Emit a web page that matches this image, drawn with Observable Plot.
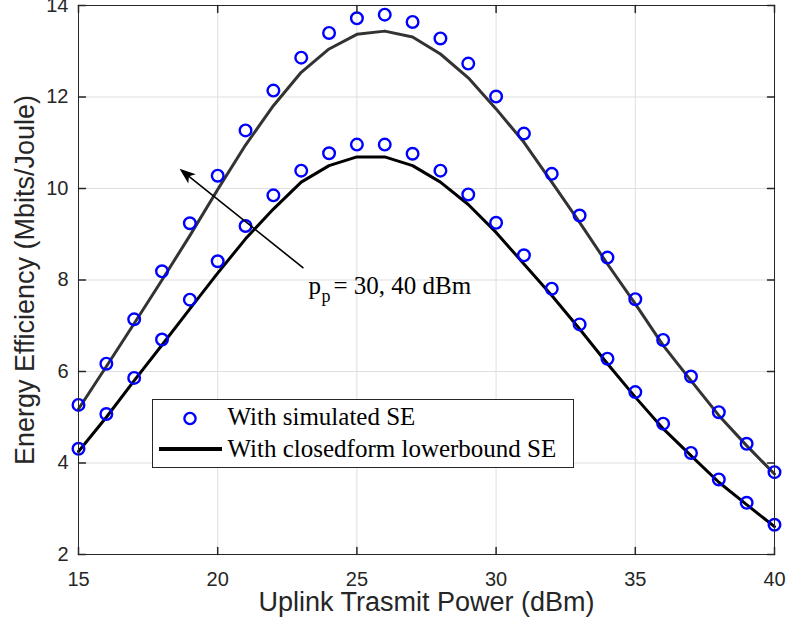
<!DOCTYPE html>
<html>
<head>
<meta charset="utf-8">
<script src="https://cdn.jsdelivr.net/npm/d3@7"></script>
<script src="https://cdn.jsdelivr.net/npm/@observablehq/plot@0.6"></script>
<style>
  body { margin: 0; background: #fff; }
  #wrap { position: relative; width: 787px; height: 633px; }
  #legend { position: absolute; left: 152px; top: 399px; }
</style>
</head>
<body>
<div id="wrap"></div>
<script>
// ---- data ----
const power = [15,16,17,18,19,20,21,22,23,24,25,26,27,28,29,30,31,32,33,34,35,36,37,38,39,40];
// pp = 40 dBm (upper)
const simulated40 = [5.27,6.17,7.14,8.19,9.24,10.28,11.27,12.14,12.86,13.40,13.72,13.80,13.64,13.28,12.73,12.01,11.20,10.32,9.41,8.49,7.58,6.69,5.89,5.11,4.42,3.80];
const closed40    = [5.18,6.11,7.05,8.00,8.97,9.98,10.95,11.81,12.54,13.05,13.37,13.44,13.31,12.94,12.42,11.74,11.01,10.14,9.26,8.35,7.48,6.57,5.80,5.04,4.38,3.76];
// pp = 30 dBm (lower)
const simulated30 = [4.31,5.07,5.86,6.70,7.57,8.41,9.18,9.85,10.39,10.77,10.96,10.96,10.76,10.39,9.87,9.25,8.54,7.81,7.03,6.28,5.55,4.86,4.22,3.64,3.13,2.65];
const closed30    = [4.25,5.00,5.80,6.58,7.37,8.15,8.90,9.55,10.14,10.50,10.69,10.69,10.50,10.14,9.65,9.04,8.35,7.66,6.93,6.17,5.44,4.75,4.16,3.58,3.09,2.61];

const xDomain = [15, 40];
const yDomain = [2, 14];
const xTicks = [15, 20, 25, 30, 35, 40];
const yTicks = [2, 4, 6, 8, 10, 12, 14];
const xLabel = "Uplink Trasmit Power (dBm)";
const yLabel = "Energy Efficiency (Mbits/Joule)";
const legendLabels = ["With simulated SE", "With closedform lowerbound SE"];
const arrowFrom = [23.06, 8.27];
const arrowTo = [18.63, 10.43];
const annotationAt = [23.26, 7.70];
const annotationParts = ["p", "p", "= 30, 40 dBm"];

// ---- layout ----
const W = 787, H = 633, mL = 78, mR = 13, mT = 5, mB = 79;
const kx = (W - mL - mR) / (xDomain[1] - xDomain[0]);
const ky = (H - mT - mB) / (yDomain[1] - yDomain[0]);
const arrowAngle = Math.atan2((arrowTo[0] - arrowFrom[0]) * kx, (arrowTo[1] - arrowFrom[1]) * ky) * 180 / Math.PI;

// ---- build ----
const rows = (ys) => power.map((x, i) => ({x, y: ys[i]}));
const sims = [...rows(simulated40), ...rows(simulated30)];
const tickShape = { draw(ctx, l) { ctx.moveTo(0, 0); ctx.lineTo(0, -l); } };
const headShape = { draw(ctx, l, r) { ctx.moveTo(0, -l); ctx.lineTo(-r, 0); ctx.lineTo(0, -l * 0.25); ctx.lineTo(r, 0); ctx.closePath(); } };
const frameColor = "#262626";
const sans = "'Liberation Sans', Arial, Helvetica, sans-serif";
const serif = "'Liberation Serif', 'Times New Roman', serif";
const at = { x: () => annotationAt[0], y: () => annotationAt[1] };

const chart = Plot.plot({
  width: W,
  height: H,
  marginLeft: mL,
  marginRight: mR,
  marginTop: mT,
  marginBottom: mB,
  style: { fontFamily: sans, background: "#fff", color: frameColor, overflow: "visible" },
  x: { domain: xDomain, ticks: xTicks },
  y: { domain: yDomain, ticks: yTicks },
  marks: [
    Plot.gridX(xTicks, { stroke: "#dfdfdf", strokeOpacity: 1, strokeWidth: 1 }),
    Plot.gridY(yTicks, { stroke: "#dfdfdf", strokeOpacity: 1, strokeWidth: 1 }),
    Plot.line(rows(closed40), { x: "x", y: "y", stroke: "#333333", strokeWidth: 3 }),
    Plot.line(rows(closed30), { x: "x", y: "y", stroke: "#000000", strokeWidth: 3 }),
    Plot.dot(sims, { x: "x", y: "y", r: 5.8, stroke: "#0000ff", strokeWidth: 2.4, fill: "none" }),
    Plot.arrow([{ x1: arrowFrom[0], y1: arrowFrom[1], x2: arrowTo[0], y2: arrowTo[1] }],
      { x1: "x1", y1: "y1", x2: "x2", y2: "y2", stroke: "#000", strokeWidth: 1.6, headLength: 0, insetEnd: 4 }),
    Plot.vector([arrowTo], { x: d => d[0], y: d => d[1], length: 16, r: 6, rotate: arrowAngle, anchor: "end", shape: headShape, fill: "#000", stroke: "none" }),
    Plot.text([annotationParts[0]], { ...at, textAnchor: "start", lineAnchor: "bottom", fontFamily: serif, fontSize: 25, fill: "#000" }),
    Plot.text([annotationParts[1]], { ...at, dx: 13, dy: 8, textAnchor: "start", lineAnchor: "bottom", fontFamily: serif, fontSize: 18, fill: "#000" }),
    Plot.text([annotationParts[2]], { ...at, dx: 25, textAnchor: "start", lineAnchor: "bottom", fontFamily: serif, fontSize: 25, fill: "#000" }),
    Plot.frame({ stroke: frameColor, strokeWidth: 1 }),
    // inward ticks on all four sides
    Plot.vector(xTicks, { x: d => d, y: () => yDomain[0], length: 7, rotate: 0, anchor: "start", shape: tickShape, stroke: frameColor }),
    Plot.vector(xTicks, { x: d => d, y: () => yDomain[1], length: 7, rotate: 180, anchor: "start", shape: tickShape, stroke: frameColor }),
    Plot.vector(yTicks, { y: d => d, x: () => xDomain[0], length: 7, rotate: 90, anchor: "start", shape: tickShape, stroke: frameColor }),
    Plot.vector(yTicks, { y: d => d, x: () => xDomain[1], length: 7, rotate: 270, anchor: "start", shape: tickShape, stroke: frameColor }),
    Plot.axisX({ ticks: xTicks, tickSize: 0, tickPadding: 17, fontSize: 20, label: null, color: frameColor }),
    Plot.axisY({ ticks: yTicks, tickSize: 0, tickPadding: 10, fontSize: 20, label: null, color: frameColor }),
    Plot.text([xLabel], { frameAnchor: "bottom", dy: 56, textAnchor: "middle", lineAnchor: "bottom", fontSize: 27, fill: frameColor }),
    Plot.text([yLabel], { frameAnchor: "left", dx: -45, rotate: -90, textAnchor: "middle", lineAnchor: "bottom", fontSize: 27, fill: frameColor })
  ]
});
const wrap = document.getElementById("wrap");
wrap.appendChild(chart);

// legend (inside the axes box)
const lg = d3.select(wrap).append("svg").attr("id", "legend")
  .attr("width", 422).attr("height", 70);
lg.append("rect").attr("x", 0.5).attr("y", 0.5).attr("width", 421).attr("height", 68)
  .attr("fill", "#fff").attr("stroke", frameColor).attr("stroke-width", 1);
lg.append("circle").attr("cx", 38).attr("cy", 19.5).attr("r", 5.6)
  .attr("fill", "none").attr("stroke", "#0000ff").attr("stroke-width", 2.4);
lg.append("line").attr("x1", 7).attr("x2", 70).attr("y1", 50).attr("y2", 50)
  .attr("stroke", "#000").attr("stroke-width", 4);
lg.selectAll("text.lab").data(legendLabels).join("text").attr("class", "lab")
  .attr("x", 75.5).attr("y", (d, i) => i === 0 ? 26 : 58)
  .attr("font-family", serif).attr("font-size", 25).attr("fill", "#000")
  .text(d => d);
</script>
</body>
</html>
